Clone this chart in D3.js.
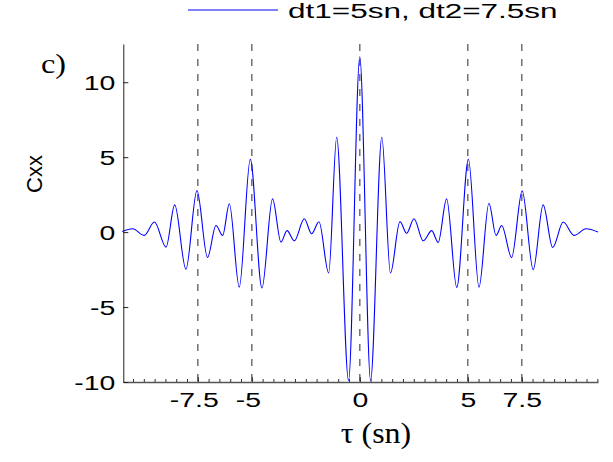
<!DOCTYPE html>
<html>
<head>
<meta charset="utf-8">
<script src="https://cdn.jsdelivr.net/npm/d3@7"></script>
<style>
html,body{margin:0;padding:0;background:#fff;}
svg{display:block;}
</style>
</head>
<body>
<svg id="chart" width="613" height="462"></svg>
<script>
// ---- data ----
const tau = [-11.0,-10.52,-9.98,-9.51,-8.97,-8.57,-8.05,-7.54,-7.05,-6.66,-6.35,-6.04,-5.58,-5.07,-4.53,-4.04,-3.65,-3.37,-3.03,-2.57,-2.23,-1.89,-1.44,-1.07,-0.52,0,
             0.5,1.02,1.42,1.86,2.17,2.51,2.94,3.33,3.63,4.02,4.49,5.03,5.52,5.98,6.31,6.57,7.03,7.52,8.03,8.49,8.93,9.42,9.92,10.48,11.03];
const cxx = [0.04,0.22,-0.22,0.67,-1.0,1.82,-2.47,2.77,-1.69,0.44,-0.22,1.89,-3.67,4.85,-3.73,2.22,-0.67,0.1,-0.58,0.89,-0.11,0.69,-2.73,6.33,-9.9,11.7,
             -9.9,6.33,-2.73,0.70,-0.08,0.89,-0.58,0.1,-0.69,2.22,-3.69,4.85,-3.67,1.93,-0.22,0.44,-1.69,2.75,-2.51,1.82,-1.03,0.67,-0.22,0.22,0.0];
const xMajorTicks = [-7.5,-5,0,5,7.5];
const xMinorTicks = d3.range(-10.5, 11.01, 0.5);
const yTicks = [-10,-5,0,5,10];
const legendLabel = "dt1=5sn, dt2=7.5sn";
const panelLabel = "c)";
const xLabel = "τ (sn)";
const yLabel = "Cxx";

const svg = d3.select("#chart");
const x = d3.scaleLinear().domain([-10.95, 11.03]).range([123.3, 598]);
const y = d3.scaleLinear().domain([-10, 12.55]).range([382, 44]);
const SANS = "'Liberation Sans', Arial, sans-serif";
const SERIF = "'Liberation Serif', 'Times New Roman', serif";

// dashed vertical grid lines at major ticks
svg.append("g").selectAll("line").data(xMajorTicks).join("line")
  .attr("x1", d => x(d)).attr("x2", d => x(d))
  .attr("y1", y(12.55)).attr("y2", y(-10))
  .attr("stroke", "#707070").attr("stroke-width", 1.5)
  .attr("stroke-dasharray", "7,8");

// data line
const pts = tau.map((t,i)=>[t,cxx[i]]);
svg.append("path")
  .attr("d", d3.line().x(d=>x(d[0])).y(d=>y(d[1])).curve(d3.curveMonotoneX)(pts))
  .attr("fill","none").attr("stroke","#0000ff").attr("stroke-width",1.1);

// x axis: minor ticks
const gxMinor = svg.append("g").attr("transform",`translate(0,${y(-10)})`)
  .call(d3.axisBottom(x).tickValues(xMinorTicks).tickSize(-3).tickSizeOuter(0).tickFormat(""));
gxMinor.select(".domain").attr("stroke","#555").attr("stroke-width",1.5);
gxMinor.selectAll(".tick line").attr("stroke","#333");

// x axis: major ticks with labels
const gxMajor = svg.append("g").attr("transform",`translate(0,${y(-10)})`)
  .call(d3.axisBottom(x).tickValues(xMajorTicks).tickSize(-5).tickSizeOuter(0).tickFormat(d=>String(d)));
gxMajor.select(".domain").remove();
gxMajor.selectAll(".tick line").attr("stroke","#333");
gxMajor.selectAll(".tick text")
  .attr("y", 25).attr("dy", null)
  .attr("transform", d => d < 0 ? "translate(-4,0) scale(1.42,1)" : "scale(1.42,1)")
  .attr("font-family", SANS).attr("font-size", 20).attr("fill","#000");

// y axis
const gy = svg.append("g").attr("transform",`translate(${x(-10.95)},0)`)
  .call(d3.axisLeft(y).tickValues(yTicks).tickSize(-5).tickSizeOuter(0).tickFormat(d=>String(d)));
gy.select(".domain").attr("stroke","#222").attr("stroke-width",1);
gy.selectAll(".tick line").attr("stroke","#222");
gy.selectAll(".tick text")
  .attr("x", -8/1.42).attr("dy", null).attr("y", 7)
  .attr("transform","scale(1.42,1)")
  .attr("font-family", SANS).attr("font-size", 20).attr("fill","#000");

// legend
svg.append("line").attr("x1",188).attr("x2",278).attr("y1",10).attr("y2",10)
  .attr("stroke","#0000ff").attr("stroke-width",1.1);
svg.append("text").attr("transform","translate(288,18) scale(1.5,1)")
  .attr("font-family", SANS).attr("font-size", 21).text(legendLabel);

// panel label
svg.append("text").attr("transform","translate(41,73) scale(1.15,1)")
  .attr("font-family", SERIF).attr("font-size", 28).text(panelLabel);

// axis labels
svg.append("text").attr("transform","translate(376,443) scale(1.1,1)")
  .attr("text-anchor","middle").attr("font-family", SERIF).attr("font-size", 29).text(xLabel);
svg.append("text").attr("transform","translate(42,174) rotate(-90)")
  .attr("text-anchor","middle").attr("font-family", SANS).attr("font-size", 22).text(yLabel);
</script>
</body>
</html>
